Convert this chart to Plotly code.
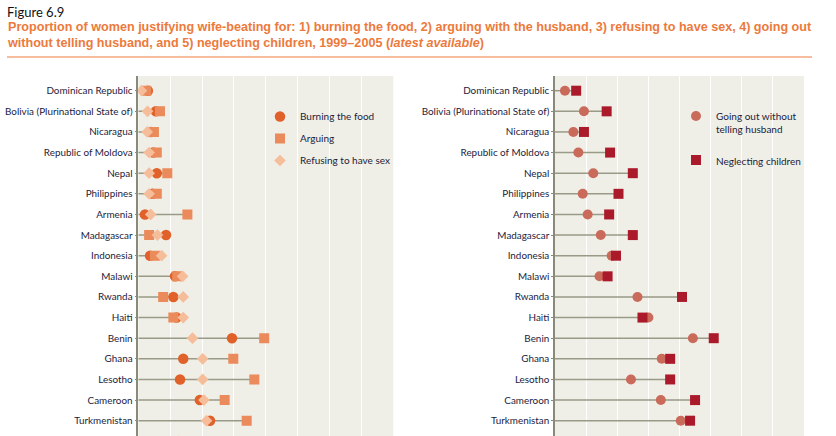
import plotly.graph_objects as go

# ---------------- data ----------------
countries = ["Dominican Republic", "Bolivia (Plurinational State of)", "Nicaragua",
             "Republic of Moldova", "Nepal", "Philippines", "Armenia", "Madagascar",
             "Indonesia", "Malawi", "Rwanda", "Haiti", "Benin", "Ghana", "Lesotho",
             "Cameroon", "Turkmenistan", ""]  # last row is cut off at the bottom of the figure

burning_food = [3, 5.5, 4, 4.7, 5.8, 4.5, 2.1, 8.7, 3.7, 11.5, 11.0, 12.0, 29.4, 14.1, 13.1, 19.3, 22.5, 22.5]
arguing      = [2.5, 6.8, 4.9, 5.8, 9.1, 5.8, 15.4, 3.4, 5.2, 12.2, 7.8, 11.0, 39.5, 29.8, 36.4, 27.1, 34.0, 32.5]
refusing_sex = [1.0, 2.9, 2.8, 3.4, 3.4, 3.4, 3.9, 6.0, 7.3, 13.9, 14.1, 14.1, 17.0, 20.2, 20.2, 20.6, 21.4, 12.5]

going_out    = [3.2, 9.3, 5.9, 7.5, 12.3, 8.9, 10.5, 14.7, 18.2, 14.3, 26.5, 30.0, 44.3, 34.3, 24.4, 34.0, 40.4, 28.4]
neglecting   = [6.8, 16.6, 9.3, 17.7, 25.0, 20.4, 17.4, 25.0, 19.6, 16.9, 40.8, 28.1, 51.0, 37.0, 37.0, 45.0, 43.4, 31.1]

# ---------------- style ----------------
W, H = 836, 436
TOP = 76
FONT = "Lato, Liberation Sans, Arial, sans-serif"
TFONT = "Liberation Sans, Arial, sans-serif"
TXT = "#1c1c3c"
ORANGE = "#ec7a3c"
BG = "#efefe7"
LINE = "#9a9a88"

rows = list(range(len(countries)))


def py(p):
    """pixel y -> paper y"""
    return (H - p) / (H - TOP)


fig = go.Figure()


def stems(series_list, xa, ya):
    xs, ys = [], []
    for i in rows:
        m = max(s[i] for s in series_list)
        xs += [0, m, None]
        ys += [i, i, None]
    fig.add_trace(go.Scatter(x=xs, y=ys, mode="lines", line=dict(color=LINE, width=1.5),
                             hoverinfo="skip", showlegend=False, xaxis=xa, yaxis=ya))


stems([burning_food, arguing, refusing_sex], "x", "y")
stems([going_out, neglecting], "x2", "y2")

fig.add_trace(go.Scatter(x=burning_food, y=rows, mode="markers", name="Burning the food",
                         marker=dict(symbol="circle", size=10.5, color="#e0622a"),
                         xaxis="x", yaxis="y", legend="legend", legendgroup="a"))
fig.add_trace(go.Scatter(x=arguing, y=rows, mode="markers", name="Arguing",
                         marker=dict(symbol="square", size=10, color="#eb8a5a"),
                         xaxis="x", yaxis="y", legend="legend", legendgroup="b"))
fig.add_trace(go.Scatter(x=refusing_sex, y=rows, mode="markers", name="Refusing to have sex",
                         marker=dict(symbol="diamond", size=9, color="#f5bd9a"),
                         xaxis="x", yaxis="y", legend="legend", legendgroup="c"))

fig.add_trace(go.Scatter(x=going_out, y=rows, mode="markers", name="Going out without<br>telling husband",
                         marker=dict(symbol="circle", size=10, color="#c96a5a"),
                         xaxis="x2", yaxis="y2", legend="legend2", legendgroup="d"))
fig.add_trace(go.Scatter(x=neglecting, y=rows, mode="markers", name="Neglecting children",
                         marker=dict(symbol="square", size=10, color="#ab1a2a"),
                         xaxis="x2", yaxis="y2", legend="legend2", legendgroup="e"))

row_spacing = 20.625
first_row_px = 90.7
yrange = [(H - first_row_px) / row_spacing, -(first_row_px - TOP) / row_spacing]

xcommon = dict(range=[0, 80], tick0=0, dtick=10, showgrid=True, gridcolor="white", gridwidth=1,
               zeroline=False, showline=False, showticklabels=False, ticks="", fixedrange=True,
               automargin=False)
ycommon = dict(range=yrange, tickvals=rows[:17], ticktext=countries[:17], showgrid=False,
               zeroline=False, showline=True, linecolor="#8a8a7a", linewidth=1.5,
               ticks="outside", ticklen=2, tickcolor="#8a8a7a", tickwidth=1,
               tickfont=dict(family=FONT, size=9.9, color=TXT), ticklabelstandoff=0,
               automargin=False)

fig.update_layout(
    width=W, height=H,
    margin=dict(l=0, r=0, t=TOP, b=0, autoexpand=False),
    paper_bgcolor="white",
    plot_bgcolor=BG,
    xaxis=dict(domain=[138.3 / W, 393.3 / W], anchor="y", **xcommon),
    yaxis=dict(domain=[0, 1], anchor="x", **ycommon),
    xaxis2=dict(domain=[555 / W, 804 / W], anchor="y2", **xcommon),
    yaxis2=dict(domain=[0, 1], anchor="x2", **ycommon),
    legend=dict(x=260 / W, y=py(102), xanchor="left", yanchor="top", bgcolor="rgba(0,0,0,0)",
                font=dict(family=FONT, size=10, color=TXT), traceorder="grouped",
                tracegroupgap=3, itemwidth=30),
    legend2=dict(x=676 / W, y=py(103), xanchor="left", yanchor="top", bgcolor="rgba(0,0,0,0)",
                 font=dict(family=FONT, size=10, color=TXT), traceorder="grouped",
                 tracegroupgap=15, itemwidth=30, valign="top"),
    showlegend=True,
)

# title block
fig.add_annotation(text="Figure 6.9", xref="paper", yref="paper", x=5 / W, y=py(2),
                   xanchor="left", yanchor="top", showarrow=False, align="left",
                   font=dict(family=FONT, size=13, color="#111111"))
fig.add_annotation(text="<b>Proportion of women justifying wife-beating for: 1) burning the food, 2) arguing with the husband, "
                        "3) refusing to have sex, 4) going out<br>without telling husband, and 5) neglecting children, "
                        "1999\u20132005 (<i>latest available</i>)</b>",
                   xref="paper", yref="paper", x=5 / W, y=py(18), xanchor="left", yanchor="top",
                   showarrow=False, align="left",
                   font=dict(family=TFONT, size=12.6, color=ORANGE))
fig.add_shape(type="line", xref="paper", yref="paper", x0=7 / W, x1=812 / W, y0=py(57), y1=py(57),
              line=dict(color=ORANGE, width=1))

fig.write_html("out.html")
